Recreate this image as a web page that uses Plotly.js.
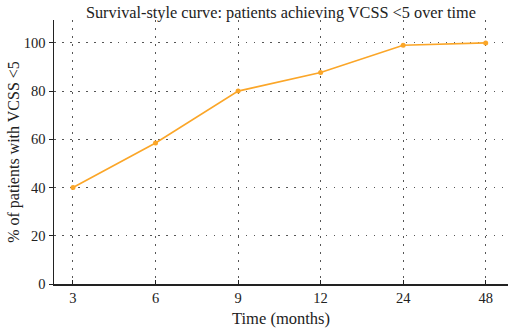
<!DOCTYPE html>
<html>
<head>
<meta charset="utf-8">
<script src="https://cdn.plot.ly/plotly-3.0.1.min.js"></script>
<style>
  html, body { margin: 0; padding: 0; background: #fff; }
  #chart { width: 508px; height: 330px; }
</style>
</head>
<body>
<div id="chart"></div>
<script>
// Follow-up time points and cumulative share of patients reaching VCSS < 5
const timeLabels = ["3", "6", "9", "12", "24", "48"];
const pctPatients = [40, 58.5, 80, 87.7, 99, 100];

const serif = "Liberation Serif, Times New Roman, serif";

const trace = {
  x: timeLabels,
  y: pctPatients,
  type: "scatter",
  mode: "lines+markers",
  line: { color: "#FBA628", width: 1.6 },
  marker: { color: "#FBA628", size: 5 },
  hoverinfo: "x+y"
};

const layout = {
  width: 508,
  height: 330,
  margin: { l: 54, r: 0, t: 20, b: 46 },
  paper_bgcolor: "#fff",
  plot_bgcolor: "#fff",
  showlegend: false,
  font: { family: serif, size: 14, color: "#222" },
  title: {
    text: "Survival-style curve: patients achieving VCSS <5 over time",
    font: { family: serif, size: 16.3, color: "#222" },
    x: 0.553, xanchor: "center",
    y: 0.98, yanchor: "top"
  },
  xaxis: {
    type: "category",
    range: [-0.23, 5.27],
    showline: true, linecolor: "#222", linewidth: 1.5,
    ticks: "inside", ticklen: 4, tickcolor: "#222",
    showgrid: true, gridcolor: "#555", gridwidth: 1, griddash: "1.5px,6.5px",
    zeroline: false,
    tickfont: { family: serif, size: 14.5, color: "#222" },
    title: { text: "Time (months)", font: { family: serif, size: 16.5, color: "#222" }, standoff: 7 }
  },
  yaxis: {
    range: [0, 109.5],
    tickvals: [0, 20, 40, 60, 80, 100],
    showline: true, linecolor: "#222", linewidth: 1.5,
    ticks: "outside", ticklen: 4, tickcolor: "#222",
    showgrid: true, gridcolor: "#555", gridwidth: 1, griddash: "1.5px,6.5px",
    zeroline: false,
    tickfont: { family: serif, size: 14.5, color: "#222" },
    title: { text: "% of patients with VCSS <5", font: { family: serif, size: 16, color: "#222" }, standoff: 0 }
  }
};

Plotly.newPlot("chart", [trace], layout, { displayModeBar: false, staticPlot: true });
</script>
</body>
</html>
